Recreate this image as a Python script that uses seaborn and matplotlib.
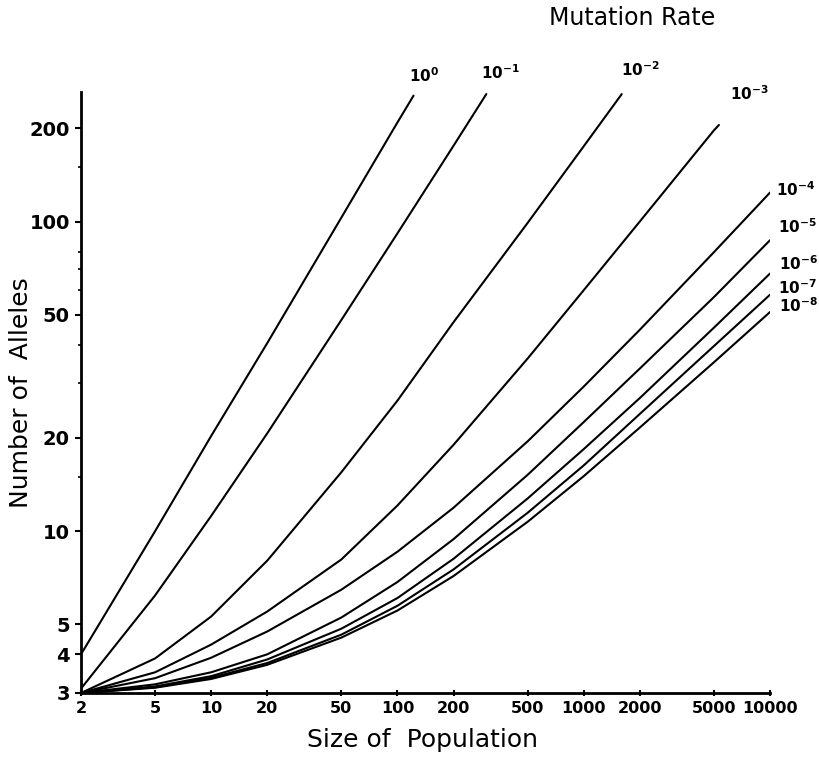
import pandas as pd
import matplotlib
matplotlib.use("Agg")
import matplotlib.pyplot as plt
import seaborn as sns

# values (log-log): population size vs number of alleles
rates = ["0", "-1", "-2", "-3", "-4", "-5", "-6", "-7", "-8"]

n_0 = [2, 5, 10, 20, 50, 100, 122]
y_0 = [4, 10, 20.3, 40.5, 103, 209, 255]

n_1 = [2, 5, 10, 20, 50, 100, 200, 300]
y_1 = [3.1, 6.2, 11.2, 20.7, 48.1, 91.6, 175.7, 258]

n_2 = [2, 5, 10, 20, 50, 100, 200, 500, 1000, 1600]
y_2 = [3.0, 3.88, 5.3, 8.03, 15.5, 26.4, 47.3, 99, 175, 258]

n_3 = [2, 5, 10, 20, 50, 100, 200, 500, 1000, 2000, 5000, 5320]
y_3 = [3.0, 3.5, 4.3, 5.5, 8.1, 12.1, 19.0, 36.1, 60, 100, 197, 205]

n_full = [2, 5, 10, 20, 50, 100, 200, 500, 1000, 2000, 5000, 10000]
y_4 = [3.0, 3.35, 3.9, 4.74, 6.47, 8.58, 11.9, 19.5, 29.3, 44.7, 79.6, 124]
y_5 = [3.0, 3.2, 3.5, 4.0, 5.26, 6.85, 9.42, 15.2, 22.5, 33.5, 57, 87]
y_6 = [3.0, 3.15, 3.4, 3.85, 4.84, 6.08, 8.14, 12.75, 18.4, 26.9, 45.4, 67.9]
y_7 = [3.0, 3.13, 3.36, 3.75, 4.63, 5.74, 7.52, 11.46, 16.3, 23.9, 39.6, 58]
y_8 = [3.0, 3.12, 3.33, 3.7, 4.53, 5.54, 7.16, 10.72, 15.05, 21.6, 35.1, 51]

xticks = [2, 5, 10, 20, 50, 100, 200, 500, 1000, 2000, 5000, 10000]
yticks = [3, 4, 5, 10, 20, 50, 100, 200]
yminor = [15, 30, 40, 60, 70, 80, 150]

series = [(n_0, y_0), (n_1, y_1), (n_2, y_2), (n_3, y_3),
          (n_full, y_4), (n_full, y_5), (n_full, y_6), (n_full, y_7), (n_full, y_8)]

rows = []
for r, (ns, ys) in zip(rates, series):
    for n, y in zip(ns, ys):
        rows.append({"rate": r, "N": n, "alleles": y})
df = pd.DataFrame(rows)

sns.set_style("ticks")
plt.rcParams["font.family"] = ["DejaVu Sans"]
plt.rcParams["mathtext.default"] = "bf"
for k in ["text.color", "axes.labelcolor", "xtick.color", "ytick.color", "axes.edgecolor"]:
    plt.rcParams[k] = "black"

fig = plt.figure(figsize=(8.2, 7.62), dpi=100)
ax = fig.add_axes([81 / 820, 1 - 693 / 762, 689 / 820, 601 / 762])

sns.lineplot(data=df, x="N", y="alleles", hue="rate", palette=["black"] * len(rates),
             estimator=None, sort=True, legend=False, linewidth=1.5, ax=ax)

ax.set_xscale("log")
ax.set_yscale("log")
ax.set_xlim(2, 10000)
ax.set_ylim(3, 262)

ax.set_xticks(xticks)
ax.set_xticklabels([str(t) for t in xticks], fontsize=11.5, fontweight="bold")
ax.set_yticks(yticks)
ax.set_yticklabels([str(t) for t in yticks], fontsize=14, fontweight="bold")
ax.set_yticks(yminor, minor=True)
ax.set_xticks([], minor=True)
ax.tick_params(axis="x", which="major", direction="inout", length=5, width=1.5, pad=3)
ax.tick_params(axis="y", which="major", direction="out", length=4, width=1.5, pad=4)
ax.tick_params(axis="y", which="minor", direction="out", length=2.5, width=1.2, labelleft=False)

sns.despine(ax=ax)
for s in ["left", "bottom"]:
    ax.spines[s].set_linewidth(2)

ax.set_xlabel("Size of  Population", fontsize=18)
ax.set_ylabel("Number of  Alleles", fontsize=18)
ax.xaxis.set_label_coords(0.495, -0.058)
ax.yaxis.set_label_coords(-0.07, 0.5)

# curve labels next to the end of each line (offsets in pixels)
offsets = [(11, 20), (14, 21), (19, 24), (30, 31), (26, 3), (27, 14), (29, 10), (27, 7), (29, 6)]
for r, (ns, ys), off in zip(rates, series, offsets):
    ax.annotate(f"10$^{{{r}}}$", xy=(ns[-1], ys[-1]), xytext=off,
                textcoords="offset pixels", ha="center", va="center",
                fontsize=11, fontweight="bold", annotation_clip=False)

fig.text(632 / 820, 1 - 18 / 762, "Mutation Rate", ha="center", va="center", fontsize=17)

fig.savefig("out.png", dpi=100)
